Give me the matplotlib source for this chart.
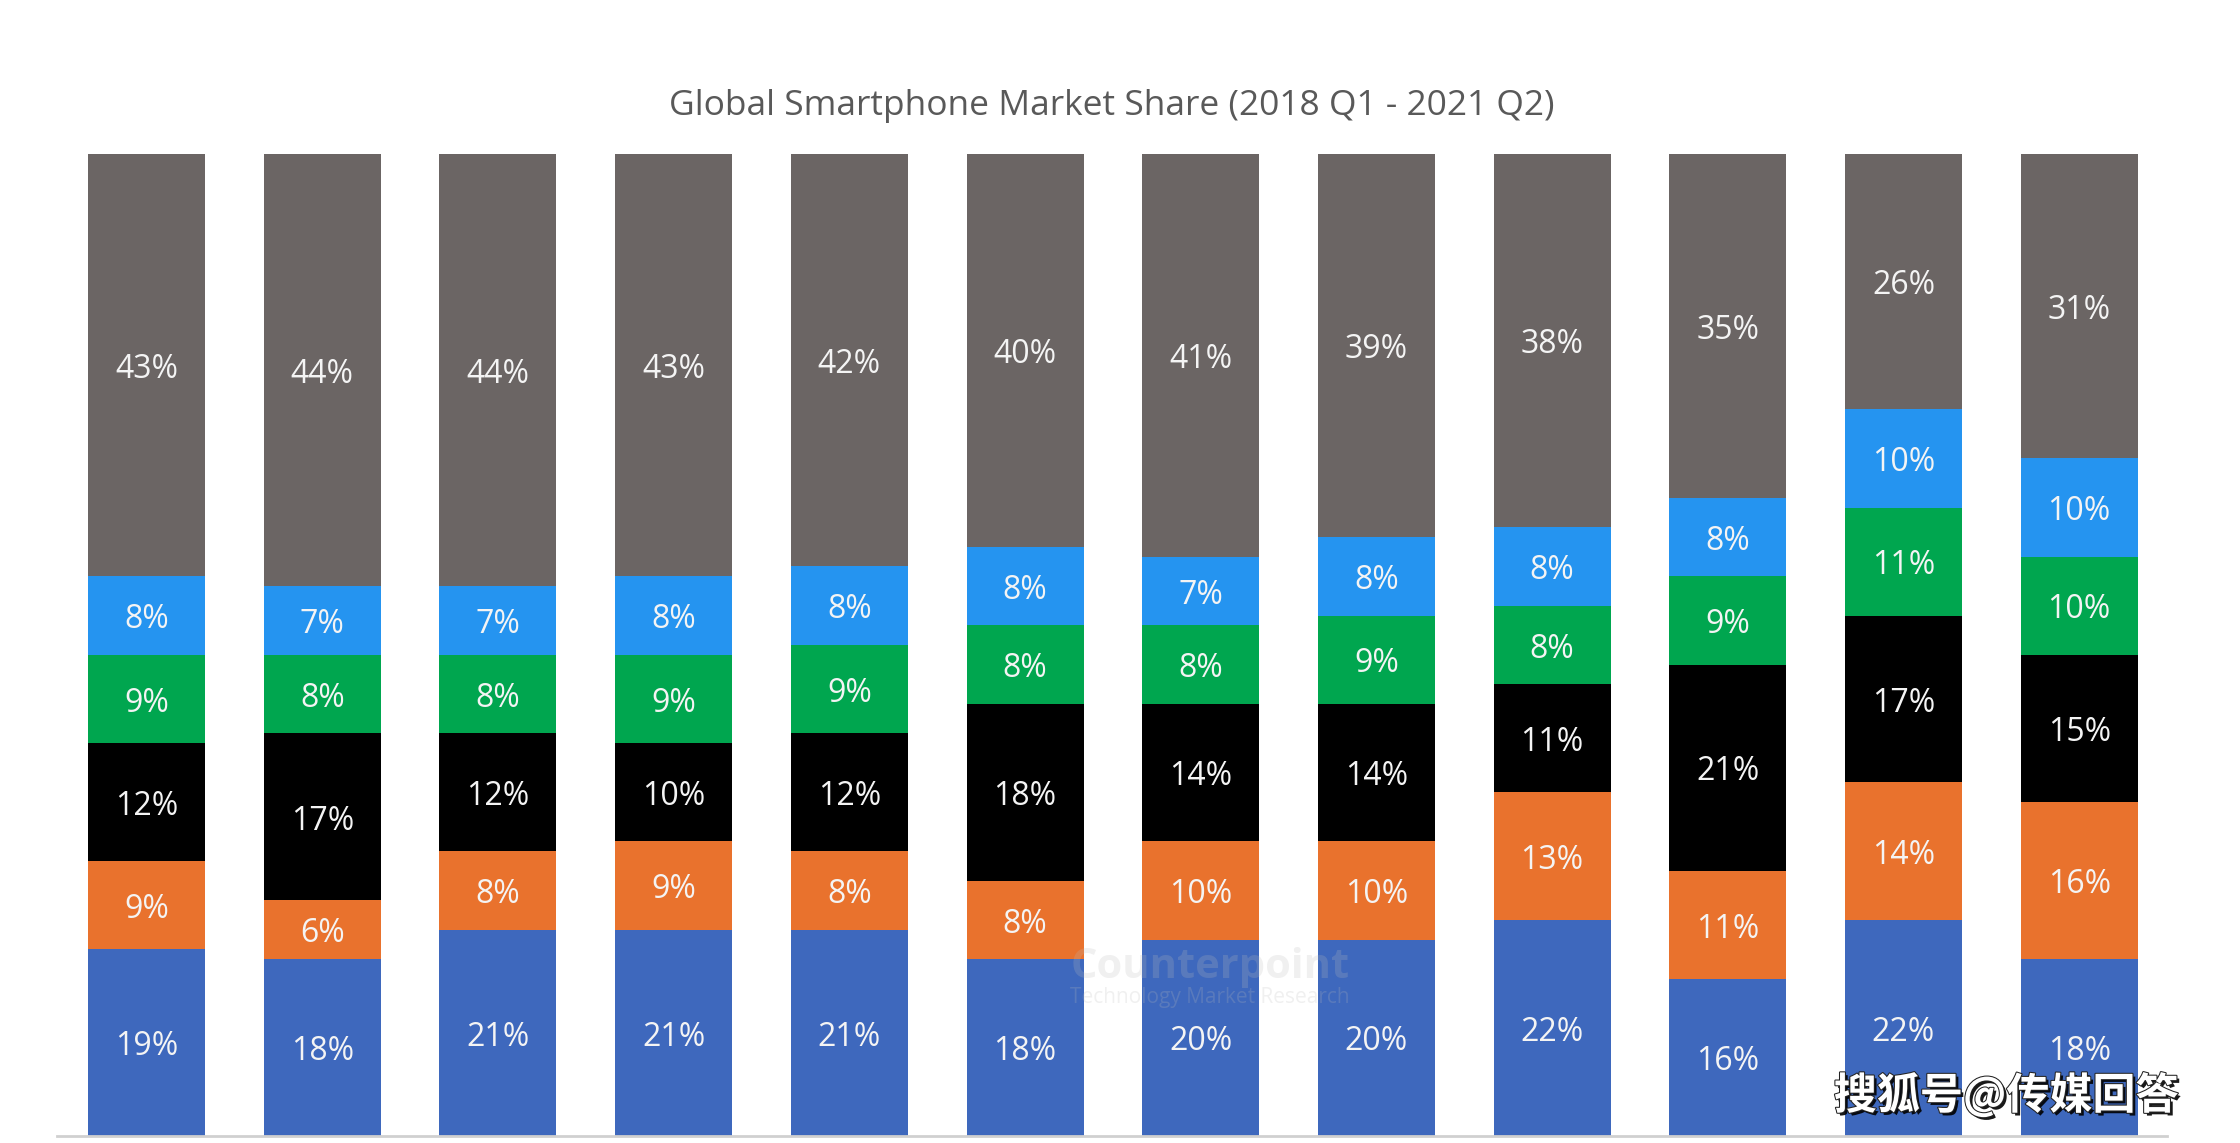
import matplotlib
matplotlib.use("Agg")
import matplotlib.pyplot as plt
import matplotlib.patheffects as pe
import numpy as np

title = "Global Smartphone Market Share (2018 Q1 - 2021 Q2)"
quarters = ["2018 Q1", "2018 Q2", "2018 Q3", "2018 Q4", "2019 Q1", "2019 Q2",
            "2019 Q3", "2019 Q4", "2020 Q1", "2020 Q2", "2020 Q3", "2020 Q4"]
# segments from bottom to top
seg_blue = [19, 18, 21, 21, 21, 18, 20, 20, 22, 16, 22, 18]
seg_orange = [9, 6, 8, 9, 8, 8, 10, 10, 13, 11, 14, 16]
seg_black = [12, 17, 12, 10, 12, 18, 14, 14, 11, 21, 17, 15]
seg_green = [9, 8, 8, 9, 9, 8, 8, 9, 8, 9, 11, 10]
seg_lightblue = [8, 7, 7, 8, 8, 8, 7, 8, 8, 8, 10, 10]
seg_gray = [43, 44, 44, 43, 42, 40, 41, 39, 38, 35, 26, 31]

series = [seg_blue, seg_orange, seg_black, seg_green, seg_lightblue, seg_gray]
colors = ["#3E68BD", "#E9722D", "#000000", "#00A64F", "#2594F0", "#6B6564"]

plt.rcParams['font.family'] = ['Open Sans', 'DejaVu Sans']

fig = plt.figure(figsize=(22.4, 11.43), dpi=100)
ax = fig.add_axes([57/2240, 7/1143, (2167-57)/2240, (1136-154)/1143])

x = np.arange(len(quarters))
bottom = np.zeros(len(quarters))
for vals, col in zip(series, colors):
    vals = np.array(vals, dtype=float)
    ax.bar(x, vals, bottom=bottom, width=0.666, color=col, edgecolor='none')
    for xi, v, b in zip(x, vals, bottom):
        ax.annotate(f"{int(v)}%", xy=(xi, b + v / 2), xytext=(0, -3),
                    textcoords='offset points', ha='center', va='center',
                    color='#F4F4F4', fontsize=23)
    bottom += vals

ax.set_xlim(-0.51, 11.5)
ax.set_ylim(0, 100)
for s in ['top', 'right', 'left']:
    ax.spines[s].set_visible(False)
ax.spines['bottom'].set_color('#D0D0D0')
ax.spines['bottom'].set_linewidth(2)
ax.set_xticks([])
ax.set_yticks([])

fig.text(1112/2240, 1 - 106/1143, title, ha='center', va='center',
         fontsize=25.5, color='#595959')

# faint source watermark
fig.text(1210/2240, 1 - 968/1143, "Counterpoint", ha='center', va='center',
         fontsize=30, fontweight='bold', color='#BBBBBB', alpha=0.22)
fig.text(1210/2240, 1 - 998/1143, "Technology Market Research", ha='center', va='center',
         fontsize=15, color='#BBBBBB', alpha=0.22)

# platform watermark
fig.text(2006/2240, 1 - 1095/1143, "搜狐号@传媒回答", ha='center', va='center',
         fontsize=31, color='white', family=['Noto Sans CJK SC', 'DejaVu Sans'],
         fontweight='bold',
         path_effects=[pe.withSimplePatchShadow(offset=(2, -2), shadow_rgbFace='black', alpha=0.9),
                       pe.withStroke(linewidth=1.5, foreground='#222222')])

fig.savefig("out.png", dpi=100)
